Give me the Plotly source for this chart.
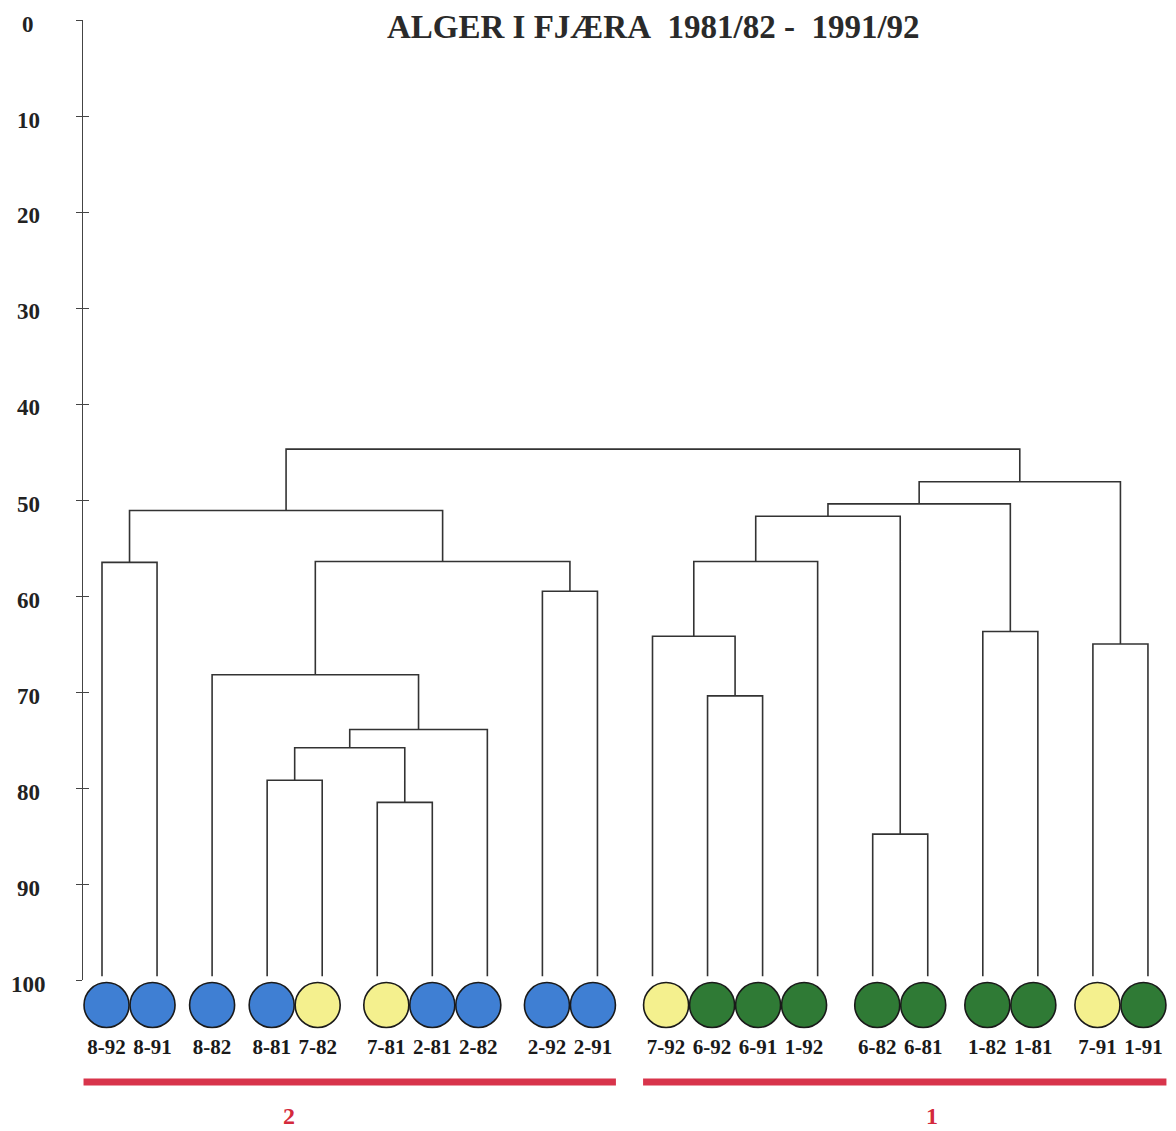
import plotly.graph_objects as go

# ---------------- data ----------------
leaf_labels = ["8-92", "8-91", "8-82", "8-81", "7-82", "7-81", "2-81", "2-82", "2-92", "2-91",
               "7-92", "6-92", "6-91", "1-92", "6-82", "6-81", "1-82", "1-81", "7-91", "1-91"]
leaf_class = ["blue", "blue", "blue", "blue", "yellow", "yellow", "blue", "blue", "blue", "blue",
              "yellow", "green", "green", "green", "green", "green", "green", "green", "yellow", "green"]
# circles touching each other on the drawing
circle_group = [0, 0, 1, 2, 2, 3, 3, 3, 4, 4, 5, 5, 5, 5, 6, 6, 7, 7, 8, 8]
# main clusters (red bars)
cluster_name = ["2"] * 10 + ["1"] * 10

# linkage: node ids >= 20 refer to earlier merges (20 + merge index)
merge_left = [3, 5, 20, 22, 2, 8, 24, 0, 27, 11, 10, 30, 14, 31, 16, 33, 18, 35, 28]
merge_right = [4, 6, 21, 7, 23, 9, 25, 1, 26, 12, 29, 13, 15, 32, 17, 34, 19, 36, 37]
merge_height = [79.2, 81.5, 75.8, 73.9, 68.2, 59.5, 56.4, 56.5, 51.1, 70.4,
                64.2, 56.4, 84.8, 51.7, 63.7, 50.4, 65.0, 48.1, 44.7]

y_ticks = [0, 10, 20, 30, 40, 50, 60, 70, 80, 90, 100]
title_text = "ALGER I FJÆRA\u00a0 1981/82 -\u00a0 1991/92"

# ---------------- style / layout constants ----------------
W, H = 1176, 1131
TOP = 20          # pixel of value 0
AXIS_BOTTOM = 980  # pixel of value 100
LEFT = 83          # pixel of the y axis line
X0_PX, DX_PX = 102.0, 55.05  # leaf 0 pixel and leaf spacing
SERIF = "Liberation Serif, Times New Roman, serif"
fill = {"blue": "#3f7fd3", "yellow": "#f4f08e", "green": "#2f7a35"}
LINE_COL = "#333333"
RED = "#d8344b"

x_min = (LEFT - X0_PX) / DX_PX
x_max = (W - X0_PX) / DX_PX
dom_split = (H - AXIS_BOTTOM) / (H - TOP)

n = len(leaf_labels)

# ---------------- dendrogram coordinates ----------------
LEAF_BASE = 99.6
node_x = {i: float(i) for i in range(n)}
node_h = {i: LEAF_BASE for i in range(n)}
xs, ys = [], []
for k, (a, b, hgt) in enumerate(zip(merge_left, merge_right, merge_height)):
    xa, xb = node_x[a], node_x[b]
    xs += [xa, xa, xb, xb, None]
    ys += [node_h[a], hgt, hgt, node_h[b], None]
    node_x[n + k] = (xa + xb) / 2
    node_h[n + k] = hgt

# ---------------- circle positions ----------------
D = 46 / DX_PX  # circle diameter in x units
groups = {}
for i, g in enumerate(circle_group):
    groups.setdefault(g, []).append(i)
circle_x = [0.0] * n
for g, members in groups.items():
    c = sum(members) / len(members)
    m = len(members)
    for j, i in enumerate(members):
        circle_x[i] = c + (j - (m - 1) / 2) * D

fig = go.Figure()

fig.add_trace(go.Scatter(x=xs, y=ys, mode="lines", xaxis="x", yaxis="y",
                         line=dict(color=LINE_COL, width=1.6), hoverinfo="skip"))

# invisible trace so the inside-tick axis is drawn
fig.add_trace(go.Scatter(x=[0], y=[0], mode="markers", marker=dict(opacity=0),
                         xaxis="x", yaxis="y3", hoverinfo="skip"))

# circles
CIRCLE_Y, LABEL_Y, BAR_Y, GROUP_Y = 1005, 1049, 1082, 1116
fig.add_trace(go.Scatter(x=circle_x, y=[CIRCLE_Y] * n, mode="markers", xaxis="x2", yaxis="y2",
                         marker=dict(size=45, color=[fill[c] for c in leaf_class],
                                     line=dict(color="#1a1a1a", width=1.6)),
                         cliponaxis=False, hoverinfo="skip"))
fig.add_trace(go.Scatter(x=circle_x, y=[LABEL_Y] * n, mode="text",
                         text=["<b>" + t + "</b>" for t in leaf_labels],
                         textposition="middle center", xaxis="x2", yaxis="y2",
                         textfont=dict(family=SERIF, size=21, color="#1a1a1a"),
                         cliponaxis=False, hoverinfo="skip"))

annotations = []
# red cluster bars
label_pos = {"2": (289 - X0_PX) / DX_PX, "1": (932 - X0_PX) / DX_PX}
for name in ["2", "1"]:
    idx = [i for i in range(n) if cluster_name[i] == name]
    x0 = min(circle_x[i] for i in idx) - D / 2
    x1 = max(circle_x[i] for i in idx) + D / 2
    fig.add_trace(go.Scatter(x=[x0, x1], y=[BAR_Y, BAR_Y], mode="lines", xaxis="x2", yaxis="y2",
                             line=dict(color=RED, width=7), hoverinfo="skip"))
    annotations.append(dict(text="<b>" + name + "</b>", xref="x2", yref="y2",
                            x=label_pos[name], y=GROUP_Y, showarrow=False,
                            xanchor="center", yanchor="middle",
                            font=dict(family=SERIF, size=24, color="#d42a3c")))

# y tick labels, centred left of the axis (placed on the same value scale)
px_per_unit = (AXIS_BOTTOM - TOP) / 100.0
for v in y_ticks:
    pix = TOP + v * px_per_unit + 4
    annotations.append(dict(text="<b>" + str(v) + "</b>", xref="paper", yref="paper",
                            x=(28 - LEFT) / (W - LEFT), y=(H - pix) / (H - TOP),
                            showarrow=False, xanchor="center", yanchor="middle",
                            font=dict(family=SERIF, size=23, color="#222222")))

annotations.append(dict(text="<b>" + title_text + "</b>", xref="paper", yref="paper",
                        x=(653 - LEFT) / (W - LEFT), y=(H - 27) / (H - TOP),
                        xanchor="center", yanchor="middle", showarrow=False,
                        font=dict(family=SERIF, size=33, color="#2a2a2a")))

axis_common = dict(showgrid=False, zeroline=False)
fig.update_layout(
    width=W, height=H,
    margin=dict(l=LEFT, r=0, t=TOP, b=0, pad=0),
    paper_bgcolor="white", plot_bgcolor="rgba(0,0,0,0)",
    showlegend=False,
    xaxis=dict(domain=[0, 1], range=[x_min, x_max], anchor="y", visible=False, **axis_common),
    yaxis=dict(domain=[dom_split, 1], range=[100, 0], anchor="x",
               showline=True, linecolor="#444444", linewidth=1.2,
               ticks="outside", ticklen=6, tickwidth=1.2, tickcolor="#444444",
               tickmode="array", tickvals=y_ticks, showticklabels=False, **axis_common),
    yaxis3=dict(overlaying="y", anchor="x", side="left", range=[100, 0],
                showline=False, ticks="inside", ticklen=6, tickwidth=1.2, tickcolor="#444444",
                tickmode="array", tickvals=y_ticks, showticklabels=False, **axis_common),
    xaxis2=dict(domain=[0, 1], range=[x_min, x_max], anchor="y2", matches="x",
                visible=False, **axis_common),
    yaxis2=dict(domain=[0, dom_split], range=[H, AXIS_BOTTOM], anchor="x2",
                visible=False, **axis_common),
    annotations=annotations,
)

fig.write_html("out.html", config={"displayModeBar": False},
               post_script="document.body.style.margin='0px';document.body.style.overflow='hidden';")
